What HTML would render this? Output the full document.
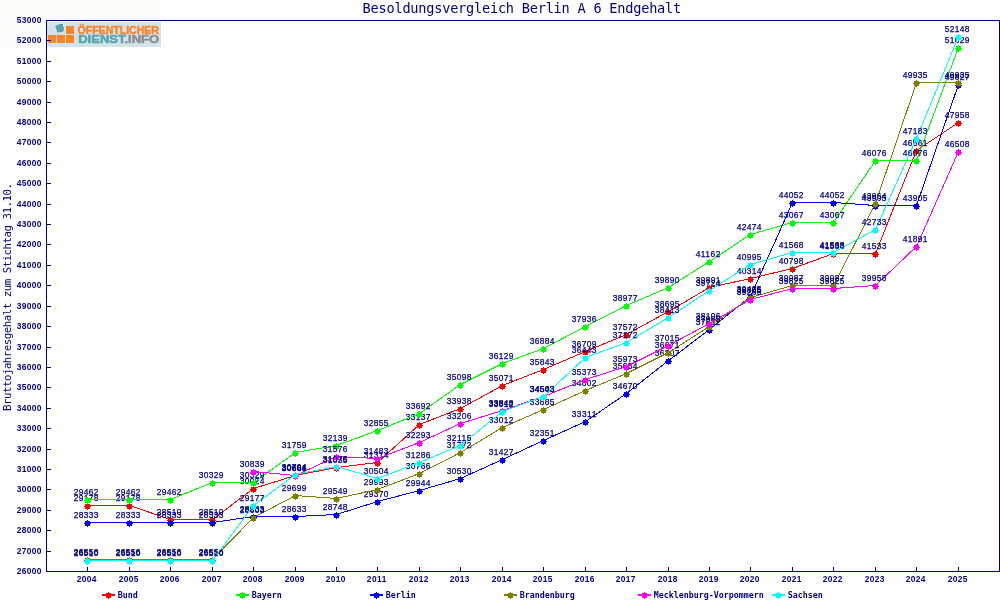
<!DOCTYPE html>
<html lang="de"><head><meta charset="utf-8"><title>Besoldungsvergleich Berlin A 6 Endgehalt</title>
<style>
html,body{margin:0;padding:0;background:#fff;}
body{width:1000px;height:600px;overflow:hidden;}
svg{display:block;}
.t{font-family:"DejaVu Sans Mono","Liberation Mono",monospace;font-size:13.6px;fill:#000080;}
.yt{font-family:"DejaVu Sans Mono","Liberation Mono",monospace;font-size:10.8px;fill:#000080;}
.ax{font-family:"Liberation Sans",sans-serif;font-size:8.4px;font-weight:bold;fill:#000080;}
.v{font-family:"Liberation Sans",sans-serif;font-size:8.4px;fill:#000080;stroke:#000080;stroke-width:0.25px;}
.lg{font-family:"DejaVu Sans Mono","Liberation Mono",monospace;font-size:8.3px;font-weight:bold;fill:#000080;}
.l1{font-family:"Liberation Sans",sans-serif;font-weight:bold;font-size:11.2px;}
</style></head><body>
<svg width="1000" height="600" viewBox="0 0 1000 600">
<rect x="0" y="0" width="1000" height="600" fill="#ffffff"/>
<g id="logo">
<rect x="0" y="0" width="161" height="47" fill="#fcfdfa"/>
<rect x="47" y="22" width="114" height="25" fill="#d4e3ea"/>
<rect x="66" y="26" width="8" height="8" fill="#fb8427"/>
<rect x="48" y="35" width="8" height="8" fill="#fb8427"/>
<rect x="57" y="35" width="8" height="8" fill="#fb8427"/>
<rect x="66" y="35" width="8" height="8" fill="#fb8427"/>
<path d="M55.1,24.9 L57.5,24.6 L60.2,23.4 L63.2,23.4 L63.8,27 L64.4,27.6 L64.4,30.9 L62,32.7 L57.5,33 L56.3,31.5 L56,29.1 L55.1,28.5 Z" fill="#5aa3ae" stroke="#eef5f7" stroke-width="0.8" stroke-linejoin="round"/>
<text class="l1" x="77.5" y="33.8" fill="#fb8427" stroke="#fb8427" stroke-width="0.5" textLength="81.5" lengthAdjust="spacingAndGlyphs">ÖFFENTLICHER</text>
<text class="l1" x="78.2" y="42.7" textLength="81" lengthAdjust="spacingAndGlyphs" style="font-size:10.1px"><tspan fill="#5aa3ae" stroke="#5aa3ae" stroke-width="0.5">DIENST</tspan><tspan fill="#8e9093" stroke="#8e9093" stroke-width="0.5">.INFO</tspan></text>
</g>
<text class="t" x="362.6" y="13" textLength="318.6" lengthAdjust="spacing">Besoldungsvergleich Berlin A 6 Endgehalt</text>
<text class="yt" transform="translate(11,411) rotate(-90)" textLength="228" lengthAdjust="spacing">Bruttojahresgehalt zum Stichtag 31.10.</text>
<g shape-rendering="crispEdges" fill="#000080">
<rect x="46" y="20" width="954" height="1"/>
<rect x="46" y="20" width="1" height="552"/>
<rect x="46" y="571" width="954" height="1"/>
<rect x="999" y="20" width="1" height="552"/>
<rect x="47" y="571" width="4" height="1"/>
<rect x="47" y="551" width="4" height="1"/>
<rect x="47" y="530" width="4" height="1"/>
<rect x="47" y="510" width="4" height="1"/>
<rect x="47" y="489" width="4" height="1"/>
<rect x="47" y="469" width="4" height="1"/>
<rect x="47" y="449" width="4" height="1"/>
<rect x="47" y="428" width="4" height="1"/>
<rect x="47" y="408" width="4" height="1"/>
<rect x="47" y="387" width="4" height="1"/>
<rect x="47" y="367" width="4" height="1"/>
<rect x="47" y="347" width="4" height="1"/>
<rect x="47" y="326" width="4" height="1"/>
<rect x="47" y="306" width="4" height="1"/>
<rect x="47" y="285" width="4" height="1"/>
<rect x="47" y="265" width="4" height="1"/>
<rect x="47" y="244" width="4" height="1"/>
<rect x="47" y="224" width="4" height="1"/>
<rect x="47" y="204" width="4" height="1"/>
<rect x="47" y="183" width="4" height="1"/>
<rect x="47" y="163" width="4" height="1"/>
<rect x="47" y="142" width="4" height="1"/>
<rect x="47" y="122" width="4" height="1"/>
<rect x="47" y="102" width="4" height="1"/>
<rect x="47" y="81" width="4" height="1"/>
<rect x="47" y="61" width="4" height="1"/>
<rect x="47" y="40" width="4" height="1"/>
<rect x="47" y="20" width="4" height="1"/>
<rect x="87" y="567" width="1" height="4"/>
<rect x="129" y="567" width="1" height="4"/>
<rect x="170" y="567" width="1" height="4"/>
<rect x="212" y="567" width="1" height="4"/>
<rect x="253" y="567" width="1" height="4"/>
<rect x="295" y="567" width="1" height="4"/>
<rect x="336" y="567" width="1" height="4"/>
<rect x="377" y="567" width="1" height="4"/>
<rect x="419" y="567" width="1" height="4"/>
<rect x="460" y="567" width="1" height="4"/>
<rect x="502" y="567" width="1" height="4"/>
<rect x="543" y="567" width="1" height="4"/>
<rect x="585" y="567" width="1" height="4"/>
<rect x="626" y="567" width="1" height="4"/>
<rect x="668" y="567" width="1" height="4"/>
<rect x="709" y="567" width="1" height="4"/>
<rect x="750" y="567" width="1" height="4"/>
<rect x="792" y="567" width="1" height="4"/>
<rect x="833" y="567" width="1" height="4"/>
<rect x="875" y="567" width="1" height="4"/>
<rect x="916" y="567" width="1" height="4"/>
<rect x="958" y="567" width="1" height="4"/>
</g>
<g class="ax">
<text x="16.7" y="574.1" textLength="24.6" lengthAdjust="spacing">26000</text>
<text x="16.7" y="554.1" textLength="24.6" lengthAdjust="spacing">27000</text>
<text x="16.7" y="533.1" textLength="24.6" lengthAdjust="spacing">28000</text>
<text x="16.7" y="513.1" textLength="24.6" lengthAdjust="spacing">29000</text>
<text x="16.7" y="492.1" textLength="24.6" lengthAdjust="spacing">30000</text>
<text x="16.7" y="472.1" textLength="24.6" lengthAdjust="spacing">31000</text>
<text x="16.7" y="452.1" textLength="24.6" lengthAdjust="spacing">32000</text>
<text x="16.7" y="431.1" textLength="24.6" lengthAdjust="spacing">33000</text>
<text x="16.7" y="411.1" textLength="24.6" lengthAdjust="spacing">34000</text>
<text x="16.7" y="390.1" textLength="24.6" lengthAdjust="spacing">35000</text>
<text x="16.7" y="370.1" textLength="24.6" lengthAdjust="spacing">36000</text>
<text x="16.7" y="350.1" textLength="24.6" lengthAdjust="spacing">37000</text>
<text x="16.7" y="329.1" textLength="24.6" lengthAdjust="spacing">38000</text>
<text x="16.7" y="309.1" textLength="24.6" lengthAdjust="spacing">39000</text>
<text x="16.7" y="288.1" textLength="24.6" lengthAdjust="spacing">40000</text>
<text x="16.7" y="268.1" textLength="24.6" lengthAdjust="spacing">41000</text>
<text x="16.7" y="247.1" textLength="24.6" lengthAdjust="spacing">42000</text>
<text x="16.7" y="227.1" textLength="24.6" lengthAdjust="spacing">43000</text>
<text x="16.7" y="207.1" textLength="24.6" lengthAdjust="spacing">44000</text>
<text x="16.7" y="186.1" textLength="24.6" lengthAdjust="spacing">45000</text>
<text x="16.7" y="166.1" textLength="24.6" lengthAdjust="spacing">46000</text>
<text x="16.7" y="145.1" textLength="24.6" lengthAdjust="spacing">47000</text>
<text x="16.7" y="125.1" textLength="24.6" lengthAdjust="spacing">48000</text>
<text x="16.7" y="105.1" textLength="24.6" lengthAdjust="spacing">49000</text>
<text x="16.7" y="84.1" textLength="24.6" lengthAdjust="spacing">50000</text>
<text x="16.7" y="64.1" textLength="24.6" lengthAdjust="spacing">51000</text>
<text x="16.7" y="43.1" textLength="24.6" lengthAdjust="spacing">52000</text>
<text x="16.7" y="23.1" textLength="24.6" lengthAdjust="spacing">53000</text>
<text x="76.8" y="581.8" textLength="19.6" lengthAdjust="spacing">2004</text>
<text x="118.8" y="581.8" textLength="19.6" lengthAdjust="spacing">2005</text>
<text x="159.8" y="581.8" textLength="19.6" lengthAdjust="spacing">2006</text>
<text x="201.8" y="581.8" textLength="19.6" lengthAdjust="spacing">2007</text>
<text x="242.8" y="581.8" textLength="19.6" lengthAdjust="spacing">2008</text>
<text x="284.8" y="581.8" textLength="19.6" lengthAdjust="spacing">2009</text>
<text x="325.8" y="581.8" textLength="19.6" lengthAdjust="spacing">2010</text>
<text x="366.8" y="581.8" textLength="19.6" lengthAdjust="spacing">2011</text>
<text x="408.8" y="581.8" textLength="19.6" lengthAdjust="spacing">2012</text>
<text x="449.8" y="581.8" textLength="19.6" lengthAdjust="spacing">2013</text>
<text x="491.8" y="581.8" textLength="19.6" lengthAdjust="spacing">2014</text>
<text x="532.8" y="581.8" textLength="19.6" lengthAdjust="spacing">2015</text>
<text x="574.8" y="581.8" textLength="19.6" lengthAdjust="spacing">2016</text>
<text x="615.8" y="581.8" textLength="19.6" lengthAdjust="spacing">2017</text>
<text x="657.8" y="581.8" textLength="19.6" lengthAdjust="spacing">2018</text>
<text x="698.8" y="581.8" textLength="19.6" lengthAdjust="spacing">2019</text>
<text x="739.8" y="581.8" textLength="19.6" lengthAdjust="spacing">2020</text>
<text x="781.8" y="581.8" textLength="19.6" lengthAdjust="spacing">2021</text>
<text x="822.8" y="581.8" textLength="19.6" lengthAdjust="spacing">2022</text>
<text x="864.8" y="581.8" textLength="19.6" lengthAdjust="spacing">2023</text>
<text x="905.8" y="581.8" textLength="19.6" lengthAdjust="spacing">2024</text>
<text x="947.8" y="581.8" textLength="19.6" lengthAdjust="spacing">2025</text>
</g>
<g>
<polyline points="87.5,505.5 129.5,505.5 170.5,519.5 212.5,519.5 253.5,488.5 295.5,475.5 336.5,467.5 377.5,462.5 419.5,424.5 460.5,408.5 502.5,385.5 543.5,369.5 585.5,351.5 626.5,334.5 668.5,311.5 709.5,287.5 750.5,278.5 792.5,268.5 833.5,253.5 875.5,253.5 916.5,150.5 958.5,122.5" fill="none" stroke="#ff0000" stroke-width="1" shape-rendering="crispEdges"/>
<g fill="#ff0000" shape-rendering="crispEdges">
<path transform="translate(87.5,506.5)" d="M-2.5,-2.5h2v-1h1v1h2v2h1v1h-1v2h-2v1h-1v-1h-2v-2h-1v-1h1z"/>
<path transform="translate(129.5,506.5)" d="M-2.5,-2.5h2v-1h1v1h2v2h1v1h-1v2h-2v1h-1v-1h-2v-2h-1v-1h1z"/>
<path transform="translate(170.5,520.5)" d="M-2.5,-2.5h2v-1h1v1h2v2h1v1h-1v2h-2v1h-1v-1h-2v-2h-1v-1h1z"/>
<path transform="translate(212.5,520.5)" d="M-2.5,-2.5h2v-1h1v1h2v2h1v1h-1v2h-2v1h-1v-1h-2v-2h-1v-1h1z"/>
<path transform="translate(253.5,489.5)" d="M-2.5,-2.5h2v-1h1v1h2v2h1v1h-1v2h-2v1h-1v-1h-2v-2h-1v-1h1z"/>
<path transform="translate(295.5,476.5)" d="M-2.5,-2.5h2v-1h1v1h2v2h1v1h-1v2h-2v1h-1v-1h-2v-2h-1v-1h1z"/>
<path transform="translate(336.5,468.5)" d="M-2.5,-2.5h2v-1h1v1h2v2h1v1h-1v2h-2v1h-1v-1h-2v-2h-1v-1h1z"/>
<path transform="translate(377.5,463.5)" d="M-2.5,-2.5h2v-1h1v1h2v2h1v1h-1v2h-2v1h-1v-1h-2v-2h-1v-1h1z"/>
<path transform="translate(419.5,425.5)" d="M-2.5,-2.5h2v-1h1v1h2v2h1v1h-1v2h-2v1h-1v-1h-2v-2h-1v-1h1z"/>
<path transform="translate(460.5,409.5)" d="M-2.5,-2.5h2v-1h1v1h2v2h1v1h-1v2h-2v1h-1v-1h-2v-2h-1v-1h1z"/>
<path transform="translate(502.5,386.5)" d="M-2.5,-2.5h2v-1h1v1h2v2h1v1h-1v2h-2v1h-1v-1h-2v-2h-1v-1h1z"/>
<path transform="translate(543.5,370.5)" d="M-2.5,-2.5h2v-1h1v1h2v2h1v1h-1v2h-2v1h-1v-1h-2v-2h-1v-1h1z"/>
<path transform="translate(585.5,352.5)" d="M-2.5,-2.5h2v-1h1v1h2v2h1v1h-1v2h-2v1h-1v-1h-2v-2h-1v-1h1z"/>
<path transform="translate(626.5,335.5)" d="M-2.5,-2.5h2v-1h1v1h2v2h1v1h-1v2h-2v1h-1v-1h-2v-2h-1v-1h1z"/>
<path transform="translate(668.5,312.5)" d="M-2.5,-2.5h2v-1h1v1h2v2h1v1h-1v2h-2v1h-1v-1h-2v-2h-1v-1h1z"/>
<path transform="translate(709.5,288.5)" d="M-2.5,-2.5h2v-1h1v1h2v2h1v1h-1v2h-2v1h-1v-1h-2v-2h-1v-1h1z"/>
<path transform="translate(750.5,279.5)" d="M-2.5,-2.5h2v-1h1v1h2v2h1v1h-1v2h-2v1h-1v-1h-2v-2h-1v-1h1z"/>
<path transform="translate(792.5,269.5)" d="M-2.5,-2.5h2v-1h1v1h2v2h1v1h-1v2h-2v1h-1v-1h-2v-2h-1v-1h1z"/>
<path transform="translate(833.5,254.5)" d="M-2.5,-2.5h2v-1h1v1h2v2h1v1h-1v2h-2v1h-1v-1h-2v-2h-1v-1h1z"/>
<path transform="translate(875.5,254.5)" d="M-2.5,-2.5h2v-1h1v1h2v2h1v1h-1v2h-2v1h-1v-1h-2v-2h-1v-1h1z"/>
<path transform="translate(916.5,151.5)" d="M-2.5,-2.5h2v-1h1v1h2v2h1v1h-1v2h-2v1h-1v-1h-2v-2h-1v-1h1z"/>
<path transform="translate(958.5,123.5)" d="M-2.5,-2.5h2v-1h1v1h2v2h1v1h-1v2h-2v1h-1v-1h-2v-2h-1v-1h1z"/>
</g>
<g class="v">
<text x="73.7" y="501.2" textLength="24.6" lengthAdjust="spacing">29178</text>
<text x="115.7" y="501.2" textLength="24.6" lengthAdjust="spacing">29178</text>
<text x="156.7" y="515.2" textLength="24.6" lengthAdjust="spacing">28510</text>
<text x="198.7" y="515.2" textLength="24.6" lengthAdjust="spacing">28510</text>
<text x="239.7" y="484.2" textLength="24.6" lengthAdjust="spacing">30024</text>
<text x="281.7" y="471.2" textLength="24.6" lengthAdjust="spacing">30661</text>
<text x="322.7" y="463.2" textLength="24.6" lengthAdjust="spacing">31035</text>
<text x="363.7" y="458.2" textLength="24.6" lengthAdjust="spacing">31314</text>
<text x="405.7" y="420.2" textLength="24.6" lengthAdjust="spacing">33137</text>
<text x="446.7" y="404.2" textLength="24.6" lengthAdjust="spacing">33938</text>
<text x="488.7" y="381.2" textLength="24.6" lengthAdjust="spacing">35071</text>
<text x="529.7" y="365.2" textLength="24.6" lengthAdjust="spacing">35843</text>
<text x="571.7" y="347.2" textLength="24.6" lengthAdjust="spacing">36709</text>
<text x="612.7" y="330.2" textLength="24.6" lengthAdjust="spacing">37572</text>
<text x="654.7" y="307.2" textLength="24.6" lengthAdjust="spacing">38695</text>
<text x="695.7" y="283.2" textLength="24.6" lengthAdjust="spacing">39891</text>
<text x="736.7" y="274.2" textLength="24.6" lengthAdjust="spacing">40314</text>
<text x="778.7" y="264.2" textLength="24.6" lengthAdjust="spacing">40798</text>
<text x="819.7" y="249.2" textLength="24.6" lengthAdjust="spacing">41533</text>
<text x="861.7" y="249.2" textLength="24.6" lengthAdjust="spacing">41533</text>
<text x="902.7" y="146.2" textLength="24.6" lengthAdjust="spacing">46561</text>
<text x="944.7" y="118.2" textLength="24.6" lengthAdjust="spacing">47958</text>
</g>
</g>
<g>
<polyline points="87.5,499.5 129.5,499.5 170.5,499.5 212.5,482.5 253.5,482.5 295.5,452.5 336.5,445.5 377.5,430.5 419.5,413.5 460.5,384.5 502.5,363.5 543.5,348.5 585.5,326.5 626.5,305.5 668.5,287.5 709.5,261.5 750.5,234.5 792.5,222.5 833.5,222.5 875.5,160.5 916.5,160.5 958.5,47.5" fill="none" stroke="#00ff00" stroke-width="1" shape-rendering="crispEdges"/>
<g fill="#00ff00" shape-rendering="crispEdges">
<path transform="translate(87.5,500.5)" d="M-2.5,-2.5h2v-1h1v1h2v2h1v1h-1v2h-2v1h-1v-1h-2v-2h-1v-1h1z"/>
<path transform="translate(129.5,500.5)" d="M-2.5,-2.5h2v-1h1v1h2v2h1v1h-1v2h-2v1h-1v-1h-2v-2h-1v-1h1z"/>
<path transform="translate(170.5,500.5)" d="M-2.5,-2.5h2v-1h1v1h2v2h1v1h-1v2h-2v1h-1v-1h-2v-2h-1v-1h1z"/>
<path transform="translate(212.5,483.5)" d="M-2.5,-2.5h2v-1h1v1h2v2h1v1h-1v2h-2v1h-1v-1h-2v-2h-1v-1h1z"/>
<path transform="translate(253.5,483.5)" d="M-2.5,-2.5h2v-1h1v1h2v2h1v1h-1v2h-2v1h-1v-1h-2v-2h-1v-1h1z"/>
<path transform="translate(295.5,453.5)" d="M-2.5,-2.5h2v-1h1v1h2v2h1v1h-1v2h-2v1h-1v-1h-2v-2h-1v-1h1z"/>
<path transform="translate(336.5,446.5)" d="M-2.5,-2.5h2v-1h1v1h2v2h1v1h-1v2h-2v1h-1v-1h-2v-2h-1v-1h1z"/>
<path transform="translate(377.5,431.5)" d="M-2.5,-2.5h2v-1h1v1h2v2h1v1h-1v2h-2v1h-1v-1h-2v-2h-1v-1h1z"/>
<path transform="translate(419.5,414.5)" d="M-2.5,-2.5h2v-1h1v1h2v2h1v1h-1v2h-2v1h-1v-1h-2v-2h-1v-1h1z"/>
<path transform="translate(460.5,385.5)" d="M-2.5,-2.5h2v-1h1v1h2v2h1v1h-1v2h-2v1h-1v-1h-2v-2h-1v-1h1z"/>
<path transform="translate(502.5,364.5)" d="M-2.5,-2.5h2v-1h1v1h2v2h1v1h-1v2h-2v1h-1v-1h-2v-2h-1v-1h1z"/>
<path transform="translate(543.5,349.5)" d="M-2.5,-2.5h2v-1h1v1h2v2h1v1h-1v2h-2v1h-1v-1h-2v-2h-1v-1h1z"/>
<path transform="translate(585.5,327.5)" d="M-2.5,-2.5h2v-1h1v1h2v2h1v1h-1v2h-2v1h-1v-1h-2v-2h-1v-1h1z"/>
<path transform="translate(626.5,306.5)" d="M-2.5,-2.5h2v-1h1v1h2v2h1v1h-1v2h-2v1h-1v-1h-2v-2h-1v-1h1z"/>
<path transform="translate(668.5,288.5)" d="M-2.5,-2.5h2v-1h1v1h2v2h1v1h-1v2h-2v1h-1v-1h-2v-2h-1v-1h1z"/>
<path transform="translate(709.5,262.5)" d="M-2.5,-2.5h2v-1h1v1h2v2h1v1h-1v2h-2v1h-1v-1h-2v-2h-1v-1h1z"/>
<path transform="translate(750.5,235.5)" d="M-2.5,-2.5h2v-1h1v1h2v2h1v1h-1v2h-2v1h-1v-1h-2v-2h-1v-1h1z"/>
<path transform="translate(792.5,223.5)" d="M-2.5,-2.5h2v-1h1v1h2v2h1v1h-1v2h-2v1h-1v-1h-2v-2h-1v-1h1z"/>
<path transform="translate(833.5,223.5)" d="M-2.5,-2.5h2v-1h1v1h2v2h1v1h-1v2h-2v1h-1v-1h-2v-2h-1v-1h1z"/>
<path transform="translate(875.5,161.5)" d="M-2.5,-2.5h2v-1h1v1h2v2h1v1h-1v2h-2v1h-1v-1h-2v-2h-1v-1h1z"/>
<path transform="translate(916.5,161.5)" d="M-2.5,-2.5h2v-1h1v1h2v2h1v1h-1v2h-2v1h-1v-1h-2v-2h-1v-1h1z"/>
<path transform="translate(958.5,48.5)" d="M-2.5,-2.5h2v-1h1v1h2v2h1v1h-1v2h-2v1h-1v-1h-2v-2h-1v-1h1z"/>
</g>
<g class="v">
<text x="73.7" y="495.2" textLength="24.6" lengthAdjust="spacing">29462</text>
<text x="115.7" y="495.2" textLength="24.6" lengthAdjust="spacing">29462</text>
<text x="156.7" y="495.2" textLength="24.6" lengthAdjust="spacing">29462</text>
<text x="198.7" y="478.2" textLength="24.6" lengthAdjust="spacing">30329</text>
<text x="239.7" y="478.2" textLength="24.6" lengthAdjust="spacing">30329</text>
<text x="281.7" y="448.2" textLength="24.6" lengthAdjust="spacing">31759</text>
<text x="322.7" y="441.2" textLength="24.6" lengthAdjust="spacing">32139</text>
<text x="363.7" y="426.2" textLength="24.6" lengthAdjust="spacing">32855</text>
<text x="405.7" y="409.2" textLength="24.6" lengthAdjust="spacing">33692</text>
<text x="446.7" y="380.2" textLength="24.6" lengthAdjust="spacing">35098</text>
<text x="488.7" y="359.2" textLength="24.6" lengthAdjust="spacing">36129</text>
<text x="529.7" y="344.2" textLength="24.6" lengthAdjust="spacing">36884</text>
<text x="571.7" y="322.2" textLength="24.6" lengthAdjust="spacing">37936</text>
<text x="612.7" y="301.2" textLength="24.6" lengthAdjust="spacing">38977</text>
<text x="654.7" y="283.2" textLength="24.6" lengthAdjust="spacing">39890</text>
<text x="695.7" y="257.2" textLength="24.6" lengthAdjust="spacing">41162</text>
<text x="736.7" y="230.2" textLength="24.6" lengthAdjust="spacing">42474</text>
<text x="778.7" y="218.2" textLength="24.6" lengthAdjust="spacing">43067</text>
<text x="819.7" y="218.2" textLength="24.6" lengthAdjust="spacing">43067</text>
<text x="861.7" y="156.2" textLength="24.6" lengthAdjust="spacing">46076</text>
<text x="902.7" y="156.2" textLength="24.6" lengthAdjust="spacing">46076</text>
<text x="944.7" y="43.2" textLength="24.6" lengthAdjust="spacing">51629</text>
</g>
</g>
<g>
<polyline points="87.5,522.5 129.5,522.5 170.5,522.5 212.5,522.5 253.5,516.5 295.5,516.5 336.5,514.5 377.5,501.5 419.5,490.5 460.5,478.5 502.5,459.5 543.5,440.5 585.5,421.5 626.5,393.5 668.5,360.5 709.5,329.5 750.5,296.5 792.5,202.5 833.5,202.5 875.5,205.5 916.5,205.5 958.5,84.5" fill="none" stroke="#0000ff" stroke-width="1" shape-rendering="crispEdges"/>
<g fill="#0000ff" shape-rendering="crispEdges">
<path transform="translate(87.5,523.5)" d="M-2.5,-2.5h2v-1h1v1h2v2h1v1h-1v2h-2v1h-1v-1h-2v-2h-1v-1h1z"/>
<path transform="translate(129.5,523.5)" d="M-2.5,-2.5h2v-1h1v1h2v2h1v1h-1v2h-2v1h-1v-1h-2v-2h-1v-1h1z"/>
<path transform="translate(170.5,523.5)" d="M-2.5,-2.5h2v-1h1v1h2v2h1v1h-1v2h-2v1h-1v-1h-2v-2h-1v-1h1z"/>
<path transform="translate(212.5,523.5)" d="M-2.5,-2.5h2v-1h1v1h2v2h1v1h-1v2h-2v1h-1v-1h-2v-2h-1v-1h1z"/>
<path transform="translate(253.5,517.5)" d="M-2.5,-2.5h2v-1h1v1h2v2h1v1h-1v2h-2v1h-1v-1h-2v-2h-1v-1h1z"/>
<path transform="translate(295.5,517.5)" d="M-2.5,-2.5h2v-1h1v1h2v2h1v1h-1v2h-2v1h-1v-1h-2v-2h-1v-1h1z"/>
<path transform="translate(336.5,515.5)" d="M-2.5,-2.5h2v-1h1v1h2v2h1v1h-1v2h-2v1h-1v-1h-2v-2h-1v-1h1z"/>
<path transform="translate(377.5,502.5)" d="M-2.5,-2.5h2v-1h1v1h2v2h1v1h-1v2h-2v1h-1v-1h-2v-2h-1v-1h1z"/>
<path transform="translate(419.5,491.5)" d="M-2.5,-2.5h2v-1h1v1h2v2h1v1h-1v2h-2v1h-1v-1h-2v-2h-1v-1h1z"/>
<path transform="translate(460.5,479.5)" d="M-2.5,-2.5h2v-1h1v1h2v2h1v1h-1v2h-2v1h-1v-1h-2v-2h-1v-1h1z"/>
<path transform="translate(502.5,460.5)" d="M-2.5,-2.5h2v-1h1v1h2v2h1v1h-1v2h-2v1h-1v-1h-2v-2h-1v-1h1z"/>
<path transform="translate(543.5,441.5)" d="M-2.5,-2.5h2v-1h1v1h2v2h1v1h-1v2h-2v1h-1v-1h-2v-2h-1v-1h1z"/>
<path transform="translate(585.5,422.5)" d="M-2.5,-2.5h2v-1h1v1h2v2h1v1h-1v2h-2v1h-1v-1h-2v-2h-1v-1h1z"/>
<path transform="translate(626.5,394.5)" d="M-2.5,-2.5h2v-1h1v1h2v2h1v1h-1v2h-2v1h-1v-1h-2v-2h-1v-1h1z"/>
<path transform="translate(668.5,361.5)" d="M-2.5,-2.5h2v-1h1v1h2v2h1v1h-1v2h-2v1h-1v-1h-2v-2h-1v-1h1z"/>
<path transform="translate(709.5,330.5)" d="M-2.5,-2.5h2v-1h1v1h2v2h1v1h-1v2h-2v1h-1v-1h-2v-2h-1v-1h1z"/>
<path transform="translate(750.5,297.5)" d="M-2.5,-2.5h2v-1h1v1h2v2h1v1h-1v2h-2v1h-1v-1h-2v-2h-1v-1h1z"/>
<path transform="translate(792.5,203.5)" d="M-2.5,-2.5h2v-1h1v1h2v2h1v1h-1v2h-2v1h-1v-1h-2v-2h-1v-1h1z"/>
<path transform="translate(833.5,203.5)" d="M-2.5,-2.5h2v-1h1v1h2v2h1v1h-1v2h-2v1h-1v-1h-2v-2h-1v-1h1z"/>
<path transform="translate(875.5,206.5)" d="M-2.5,-2.5h2v-1h1v1h2v2h1v1h-1v2h-2v1h-1v-1h-2v-2h-1v-1h1z"/>
<path transform="translate(916.5,206.5)" d="M-2.5,-2.5h2v-1h1v1h2v2h1v1h-1v2h-2v1h-1v-1h-2v-2h-1v-1h1z"/>
<path transform="translate(958.5,85.5)" d="M-2.5,-2.5h2v-1h1v1h2v2h1v1h-1v2h-2v1h-1v-1h-2v-2h-1v-1h1z"/>
</g>
<g class="v">
<text x="73.7" y="518.2" textLength="24.6" lengthAdjust="spacing">28333</text>
<text x="115.7" y="518.2" textLength="24.6" lengthAdjust="spacing">28333</text>
<text x="156.7" y="518.2" textLength="24.6" lengthAdjust="spacing">28333</text>
<text x="198.7" y="518.2" textLength="24.6" lengthAdjust="spacing">28333</text>
<text x="239.7" y="512.2" textLength="24.6" lengthAdjust="spacing">28633</text>
<text x="281.7" y="512.2" textLength="24.6" lengthAdjust="spacing">28633</text>
<text x="322.7" y="510.2" textLength="24.6" lengthAdjust="spacing">28748</text>
<text x="363.7" y="497.2" textLength="24.6" lengthAdjust="spacing">29370</text>
<text x="405.7" y="486.2" textLength="24.6" lengthAdjust="spacing">29944</text>
<text x="446.7" y="474.2" textLength="24.6" lengthAdjust="spacing">30530</text>
<text x="488.7" y="455.2" textLength="24.6" lengthAdjust="spacing">31427</text>
<text x="529.7" y="436.2" textLength="24.6" lengthAdjust="spacing">32351</text>
<text x="571.7" y="417.2" textLength="24.6" lengthAdjust="spacing">33311</text>
<text x="612.7" y="389.2" textLength="24.6" lengthAdjust="spacing">34670</text>
<text x="654.7" y="356.2" textLength="24.6" lengthAdjust="spacing">36307</text>
<text x="695.7" y="325.2" textLength="24.6" lengthAdjust="spacing">37812</text>
<text x="736.7" y="292.2" textLength="24.6" lengthAdjust="spacing">39405</text>
<text x="778.7" y="198.2" textLength="24.6" lengthAdjust="spacing">44052</text>
<text x="819.7" y="198.2" textLength="24.6" lengthAdjust="spacing">44052</text>
<text x="861.7" y="201.2" textLength="24.6" lengthAdjust="spacing">43905</text>
<text x="902.7" y="201.2" textLength="24.6" lengthAdjust="spacing">43905</text>
<text x="944.7" y="80.2" textLength="24.6" lengthAdjust="spacing">49827</text>
</g>
</g>
<g>
<polyline points="87.5,559.5 129.5,559.5 170.5,559.5 212.5,559.5 253.5,517.5 295.5,495.5 336.5,498.5 377.5,489.5 419.5,473.5 460.5,452.5 502.5,427.5 543.5,409.5 585.5,390.5 626.5,373.5 668.5,352.5 709.5,326.5 750.5,297.5 792.5,285.5 833.5,285.5 875.5,203.5 916.5,82.5 958.5,82.5" fill="none" stroke="#808000" stroke-width="1" shape-rendering="crispEdges"/>
<g fill="#808000" shape-rendering="crispEdges">
<path transform="translate(87.5,560.5)" d="M-2.5,-2.5h2v-1h1v1h2v2h1v1h-1v2h-2v1h-1v-1h-2v-2h-1v-1h1z"/>
<path transform="translate(129.5,560.5)" d="M-2.5,-2.5h2v-1h1v1h2v2h1v1h-1v2h-2v1h-1v-1h-2v-2h-1v-1h1z"/>
<path transform="translate(170.5,560.5)" d="M-2.5,-2.5h2v-1h1v1h2v2h1v1h-1v2h-2v1h-1v-1h-2v-2h-1v-1h1z"/>
<path transform="translate(212.5,560.5)" d="M-2.5,-2.5h2v-1h1v1h2v2h1v1h-1v2h-2v1h-1v-1h-2v-2h-1v-1h1z"/>
<path transform="translate(253.5,518.5)" d="M-2.5,-2.5h2v-1h1v1h2v2h1v1h-1v2h-2v1h-1v-1h-2v-2h-1v-1h1z"/>
<path transform="translate(295.5,496.5)" d="M-2.5,-2.5h2v-1h1v1h2v2h1v1h-1v2h-2v1h-1v-1h-2v-2h-1v-1h1z"/>
<path transform="translate(336.5,499.5)" d="M-2.5,-2.5h2v-1h1v1h2v2h1v1h-1v2h-2v1h-1v-1h-2v-2h-1v-1h1z"/>
<path transform="translate(377.5,490.5)" d="M-2.5,-2.5h2v-1h1v1h2v2h1v1h-1v2h-2v1h-1v-1h-2v-2h-1v-1h1z"/>
<path transform="translate(419.5,474.5)" d="M-2.5,-2.5h2v-1h1v1h2v2h1v1h-1v2h-2v1h-1v-1h-2v-2h-1v-1h1z"/>
<path transform="translate(460.5,453.5)" d="M-2.5,-2.5h2v-1h1v1h2v2h1v1h-1v2h-2v1h-1v-1h-2v-2h-1v-1h1z"/>
<path transform="translate(502.5,428.5)" d="M-2.5,-2.5h2v-1h1v1h2v2h1v1h-1v2h-2v1h-1v-1h-2v-2h-1v-1h1z"/>
<path transform="translate(543.5,410.5)" d="M-2.5,-2.5h2v-1h1v1h2v2h1v1h-1v2h-2v1h-1v-1h-2v-2h-1v-1h1z"/>
<path transform="translate(585.5,391.5)" d="M-2.5,-2.5h2v-1h1v1h2v2h1v1h-1v2h-2v1h-1v-1h-2v-2h-1v-1h1z"/>
<path transform="translate(626.5,374.5)" d="M-2.5,-2.5h2v-1h1v1h2v2h1v1h-1v2h-2v1h-1v-1h-2v-2h-1v-1h1z"/>
<path transform="translate(668.5,353.5)" d="M-2.5,-2.5h2v-1h1v1h2v2h1v1h-1v2h-2v1h-1v-1h-2v-2h-1v-1h1z"/>
<path transform="translate(709.5,327.5)" d="M-2.5,-2.5h2v-1h1v1h2v2h1v1h-1v2h-2v1h-1v-1h-2v-2h-1v-1h1z"/>
<path transform="translate(750.5,298.5)" d="M-2.5,-2.5h2v-1h1v1h2v2h1v1h-1v2h-2v1h-1v-1h-2v-2h-1v-1h1z"/>
<path transform="translate(792.5,286.5)" d="M-2.5,-2.5h2v-1h1v1h2v2h1v1h-1v2h-2v1h-1v-1h-2v-2h-1v-1h1z"/>
<path transform="translate(833.5,286.5)" d="M-2.5,-2.5h2v-1h1v1h2v2h1v1h-1v2h-2v1h-1v-1h-2v-2h-1v-1h1z"/>
<path transform="translate(875.5,204.5)" d="M-2.5,-2.5h2v-1h1v1h2v2h1v1h-1v2h-2v1h-1v-1h-2v-2h-1v-1h1z"/>
<path transform="translate(916.5,83.5)" d="M-2.5,-2.5h2v-1h1v1h2v2h1v1h-1v2h-2v1h-1v-1h-2v-2h-1v-1h1z"/>
<path transform="translate(958.5,83.5)" d="M-2.5,-2.5h2v-1h1v1h2v2h1v1h-1v2h-2v1h-1v-1h-2v-2h-1v-1h1z"/>
</g>
<g class="v">
<text x="73.7" y="555.2" textLength="24.6" lengthAdjust="spacing">26556</text>
<text x="115.7" y="555.2" textLength="24.6" lengthAdjust="spacing">26556</text>
<text x="156.7" y="555.2" textLength="24.6" lengthAdjust="spacing">26556</text>
<text x="198.7" y="555.2" textLength="24.6" lengthAdjust="spacing">26556</text>
<text x="239.7" y="513.2" textLength="24.6" lengthAdjust="spacing">28603</text>
<text x="281.7" y="491.2" textLength="24.6" lengthAdjust="spacing">29699</text>
<text x="322.7" y="494.2" textLength="24.6" lengthAdjust="spacing">29549</text>
<text x="363.7" y="485.2" textLength="24.6" lengthAdjust="spacing">29993</text>
<text x="405.7" y="469.2" textLength="24.6" lengthAdjust="spacing">30766</text>
<text x="446.7" y="448.2" textLength="24.6" lengthAdjust="spacing">31772</text>
<text x="488.7" y="423.2" textLength="24.6" lengthAdjust="spacing">33012</text>
<text x="529.7" y="405.2" textLength="24.6" lengthAdjust="spacing">33885</text>
<text x="571.7" y="386.2" textLength="24.6" lengthAdjust="spacing">34802</text>
<text x="612.7" y="369.2" textLength="24.6" lengthAdjust="spacing">35654</text>
<text x="654.7" y="348.2" textLength="24.6" lengthAdjust="spacing">36671</text>
<text x="695.7" y="322.2" textLength="24.6" lengthAdjust="spacing">37965</text>
<text x="736.7" y="293.2" textLength="24.6" lengthAdjust="spacing">39365</text>
<text x="778.7" y="281.2" textLength="24.6" lengthAdjust="spacing">39987</text>
<text x="819.7" y="281.2" textLength="24.6" lengthAdjust="spacing">39987</text>
<text x="861.7" y="199.2" textLength="24.6" lengthAdjust="spacing">43964</text>
<text x="902.7" y="78.2" textLength="24.6" lengthAdjust="spacing">49935</text>
<text x="944.7" y="78.2" textLength="24.6" lengthAdjust="spacing">49935</text>
</g>
</g>
<g>
<polyline points="253.5,471.5 295.5,475.5 336.5,456.5 377.5,458.5 419.5,442.5 460.5,423.5 502.5,410.5 543.5,396.5 585.5,379.5 626.5,366.5 668.5,345.5 709.5,323.5 750.5,299.5 792.5,288.5 833.5,288.5 875.5,285.5 916.5,246.5 958.5,151.5" fill="none" stroke="#ff00ff" stroke-width="1" shape-rendering="crispEdges"/>
<g fill="#ff00ff" shape-rendering="crispEdges">
<path transform="translate(253.5,472.5)" d="M-2.5,-2.5h2v-1h1v1h2v2h1v1h-1v2h-2v1h-1v-1h-2v-2h-1v-1h1z"/>
<path transform="translate(295.5,476.5)" d="M-2.5,-2.5h2v-1h1v1h2v2h1v1h-1v2h-2v1h-1v-1h-2v-2h-1v-1h1z"/>
<path transform="translate(336.5,457.5)" d="M-2.5,-2.5h2v-1h1v1h2v2h1v1h-1v2h-2v1h-1v-1h-2v-2h-1v-1h1z"/>
<path transform="translate(377.5,459.5)" d="M-2.5,-2.5h2v-1h1v1h2v2h1v1h-1v2h-2v1h-1v-1h-2v-2h-1v-1h1z"/>
<path transform="translate(419.5,443.5)" d="M-2.5,-2.5h2v-1h1v1h2v2h1v1h-1v2h-2v1h-1v-1h-2v-2h-1v-1h1z"/>
<path transform="translate(460.5,424.5)" d="M-2.5,-2.5h2v-1h1v1h2v2h1v1h-1v2h-2v1h-1v-1h-2v-2h-1v-1h1z"/>
<path transform="translate(502.5,411.5)" d="M-2.5,-2.5h2v-1h1v1h2v2h1v1h-1v2h-2v1h-1v-1h-2v-2h-1v-1h1z"/>
<path transform="translate(543.5,397.5)" d="M-2.5,-2.5h2v-1h1v1h2v2h1v1h-1v2h-2v1h-1v-1h-2v-2h-1v-1h1z"/>
<path transform="translate(585.5,380.5)" d="M-2.5,-2.5h2v-1h1v1h2v2h1v1h-1v2h-2v1h-1v-1h-2v-2h-1v-1h1z"/>
<path transform="translate(626.5,367.5)" d="M-2.5,-2.5h2v-1h1v1h2v2h1v1h-1v2h-2v1h-1v-1h-2v-2h-1v-1h1z"/>
<path transform="translate(668.5,346.5)" d="M-2.5,-2.5h2v-1h1v1h2v2h1v1h-1v2h-2v1h-1v-1h-2v-2h-1v-1h1z"/>
<path transform="translate(709.5,324.5)" d="M-2.5,-2.5h2v-1h1v1h2v2h1v1h-1v2h-2v1h-1v-1h-2v-2h-1v-1h1z"/>
<path transform="translate(750.5,300.5)" d="M-2.5,-2.5h2v-1h1v1h2v2h1v1h-1v2h-2v1h-1v-1h-2v-2h-1v-1h1z"/>
<path transform="translate(792.5,289.5)" d="M-2.5,-2.5h2v-1h1v1h2v2h1v1h-1v2h-2v1h-1v-1h-2v-2h-1v-1h1z"/>
<path transform="translate(833.5,289.5)" d="M-2.5,-2.5h2v-1h1v1h2v2h1v1h-1v2h-2v1h-1v-1h-2v-2h-1v-1h1z"/>
<path transform="translate(875.5,286.5)" d="M-2.5,-2.5h2v-1h1v1h2v2h1v1h-1v2h-2v1h-1v-1h-2v-2h-1v-1h1z"/>
<path transform="translate(916.5,247.5)" d="M-2.5,-2.5h2v-1h1v1h2v2h1v1h-1v2h-2v1h-1v-1h-2v-2h-1v-1h1z"/>
<path transform="translate(958.5,152.5)" d="M-2.5,-2.5h2v-1h1v1h2v2h1v1h-1v2h-2v1h-1v-1h-2v-2h-1v-1h1z"/>
</g>
<g class="v">
<text x="239.7" y="467.2" textLength="24.6" lengthAdjust="spacing">30839</text>
<text x="281.7" y="471.2" textLength="24.6" lengthAdjust="spacing">30664</text>
<text x="322.7" y="452.2" textLength="24.6" lengthAdjust="spacing">31576</text>
<text x="363.7" y="454.2" textLength="24.6" lengthAdjust="spacing">31483</text>
<text x="405.7" y="438.2" textLength="24.6" lengthAdjust="spacing">32293</text>
<text x="446.7" y="419.2" textLength="24.6" lengthAdjust="spacing">33206</text>
<text x="488.7" y="406.2" textLength="24.6" lengthAdjust="spacing">33848</text>
<text x="529.7" y="392.2" textLength="24.6" lengthAdjust="spacing">34543</text>
<text x="571.7" y="375.2" textLength="24.6" lengthAdjust="spacing">35373</text>
<text x="612.7" y="362.2" textLength="24.6" lengthAdjust="spacing">35973</text>
<text x="654.7" y="341.2" textLength="24.6" lengthAdjust="spacing">37015</text>
<text x="695.7" y="319.2" textLength="24.6" lengthAdjust="spacing">38106</text>
<text x="736.7" y="295.2" textLength="24.6" lengthAdjust="spacing">39265</text>
<text x="778.7" y="284.2" textLength="24.6" lengthAdjust="spacing">39825</text>
<text x="819.7" y="284.2" textLength="24.6" lengthAdjust="spacing">39825</text>
<text x="861.7" y="281.2" textLength="24.6" lengthAdjust="spacing">39958</text>
<text x="902.7" y="242.2" textLength="24.6" lengthAdjust="spacing">41891</text>
<text x="944.7" y="147.2" textLength="24.6" lengthAdjust="spacing">46508</text>
</g>
</g>
<g>
<polyline points="87.5,560.5 129.5,560.5 170.5,560.5 212.5,560.5 253.5,505.5 295.5,474.5 336.5,466.5 377.5,478.5 419.5,462.5 460.5,445.5 502.5,411.5 543.5,396.5 585.5,357.5 626.5,342.5 668.5,317.5 709.5,290.5 750.5,264.5 792.5,252.5 833.5,252.5 875.5,229.5 916.5,138.5 958.5,36.5" fill="none" stroke="#00ffff" stroke-width="1" shape-rendering="crispEdges"/>
<g fill="#00ffff" shape-rendering="crispEdges">
<path transform="translate(87.5,561.5)" d="M-2.5,-2.5h2v-1h1v1h2v2h1v1h-1v2h-2v1h-1v-1h-2v-2h-1v-1h1z"/>
<path transform="translate(129.5,561.5)" d="M-2.5,-2.5h2v-1h1v1h2v2h1v1h-1v2h-2v1h-1v-1h-2v-2h-1v-1h1z"/>
<path transform="translate(170.5,561.5)" d="M-2.5,-2.5h2v-1h1v1h2v2h1v1h-1v2h-2v1h-1v-1h-2v-2h-1v-1h1z"/>
<path transform="translate(212.5,561.5)" d="M-2.5,-2.5h2v-1h1v1h2v2h1v1h-1v2h-2v1h-1v-1h-2v-2h-1v-1h1z"/>
<path transform="translate(253.5,506.5)" d="M-2.5,-2.5h2v-1h1v1h2v2h1v1h-1v2h-2v1h-1v-1h-2v-2h-1v-1h1z"/>
<path transform="translate(295.5,475.5)" d="M-2.5,-2.5h2v-1h1v1h2v2h1v1h-1v2h-2v1h-1v-1h-2v-2h-1v-1h1z"/>
<path transform="translate(336.5,467.5)" d="M-2.5,-2.5h2v-1h1v1h2v2h1v1h-1v2h-2v1h-1v-1h-2v-2h-1v-1h1z"/>
<path transform="translate(377.5,479.5)" d="M-2.5,-2.5h2v-1h1v1h2v2h1v1h-1v2h-2v1h-1v-1h-2v-2h-1v-1h1z"/>
<path transform="translate(419.5,463.5)" d="M-2.5,-2.5h2v-1h1v1h2v2h1v1h-1v2h-2v1h-1v-1h-2v-2h-1v-1h1z"/>
<path transform="translate(460.5,446.5)" d="M-2.5,-2.5h2v-1h1v1h2v2h1v1h-1v2h-2v1h-1v-1h-2v-2h-1v-1h1z"/>
<path transform="translate(502.5,412.5)" d="M-2.5,-2.5h2v-1h1v1h2v2h1v1h-1v2h-2v1h-1v-1h-2v-2h-1v-1h1z"/>
<path transform="translate(543.5,397.5)" d="M-2.5,-2.5h2v-1h1v1h2v2h1v1h-1v2h-2v1h-1v-1h-2v-2h-1v-1h1z"/>
<path transform="translate(585.5,358.5)" d="M-2.5,-2.5h2v-1h1v1h2v2h1v1h-1v2h-2v1h-1v-1h-2v-2h-1v-1h1z"/>
<path transform="translate(626.5,343.5)" d="M-2.5,-2.5h2v-1h1v1h2v2h1v1h-1v2h-2v1h-1v-1h-2v-2h-1v-1h1z"/>
<path transform="translate(668.5,318.5)" d="M-2.5,-2.5h2v-1h1v1h2v2h1v1h-1v2h-2v1h-1v-1h-2v-2h-1v-1h1z"/>
<path transform="translate(709.5,291.5)" d="M-2.5,-2.5h2v-1h1v1h2v2h1v1h-1v2h-2v1h-1v-1h-2v-2h-1v-1h1z"/>
<path transform="translate(750.5,265.5)" d="M-2.5,-2.5h2v-1h1v1h2v2h1v1h-1v2h-2v1h-1v-1h-2v-2h-1v-1h1z"/>
<path transform="translate(792.5,253.5)" d="M-2.5,-2.5h2v-1h1v1h2v2h1v1h-1v2h-2v1h-1v-1h-2v-2h-1v-1h1z"/>
<path transform="translate(833.5,253.5)" d="M-2.5,-2.5h2v-1h1v1h2v2h1v1h-1v2h-2v1h-1v-1h-2v-2h-1v-1h1z"/>
<path transform="translate(875.5,230.5)" d="M-2.5,-2.5h2v-1h1v1h2v2h1v1h-1v2h-2v1h-1v-1h-2v-2h-1v-1h1z"/>
<path transform="translate(916.5,139.5)" d="M-2.5,-2.5h2v-1h1v1h2v2h1v1h-1v2h-2v1h-1v-1h-2v-2h-1v-1h1z"/>
<path transform="translate(958.5,37.5)" d="M-2.5,-2.5h2v-1h1v1h2v2h1v1h-1v2h-2v1h-1v-1h-2v-2h-1v-1h1z"/>
</g>
<g class="v">
<text x="73.7" y="556.2" textLength="24.6" lengthAdjust="spacing">26510</text>
<text x="115.7" y="556.2" textLength="24.6" lengthAdjust="spacing">26510</text>
<text x="156.7" y="556.2" textLength="24.6" lengthAdjust="spacing">26510</text>
<text x="198.7" y="556.2" textLength="24.6" lengthAdjust="spacing">26510</text>
<text x="239.7" y="501.2" textLength="24.6" lengthAdjust="spacing">29177</text>
<text x="281.7" y="470.2" textLength="24.6" lengthAdjust="spacing">30704</text>
<text x="322.7" y="462.2" textLength="24.6" lengthAdjust="spacing">31076</text>
<text x="363.7" y="474.2" textLength="24.6" lengthAdjust="spacing">30504</text>
<text x="405.7" y="458.2" textLength="24.6" lengthAdjust="spacing">31286</text>
<text x="446.7" y="441.2" textLength="24.6" lengthAdjust="spacing">32115</text>
<text x="488.7" y="407.2" textLength="24.6" lengthAdjust="spacing">33812</text>
<text x="529.7" y="392.2" textLength="24.6" lengthAdjust="spacing">34503</text>
<text x="571.7" y="353.2" textLength="24.6" lengthAdjust="spacing">36443</text>
<text x="612.7" y="338.2" textLength="24.6" lengthAdjust="spacing">37172</text>
<text x="654.7" y="313.2" textLength="24.6" lengthAdjust="spacing">38413</text>
<text x="695.7" y="286.2" textLength="24.6" lengthAdjust="spacing">39724</text>
<text x="736.7" y="260.2" textLength="24.6" lengthAdjust="spacing">40995</text>
<text x="778.7" y="248.2" textLength="24.6" lengthAdjust="spacing">41568</text>
<text x="819.7" y="248.2" textLength="24.6" lengthAdjust="spacing">41568</text>
<text x="861.7" y="225.2" textLength="24.6" lengthAdjust="spacing">42733</text>
<text x="902.7" y="134.2" textLength="24.6" lengthAdjust="spacing">47183</text>
<text x="944.7" y="32.2" textLength="24.6" lengthAdjust="spacing">52148</text>
</g>
</g>
<g id="legend">
<rect x="102" y="594" width="13" height="2" fill="#ff0000" shape-rendering="crispEdges"/>
<path transform="translate(108.5,595.5)" d="M-2.5,-2.5h2v-1h1v1h2v2h1v1h-1v2h-2v1h-1v-1h-2v-2h-1v-1h1z" fill="#ff0000" shape-rendering="crispEdges"/>
<text class="lg" x="117.7" y="598.4" textLength="20" lengthAdjust="spacing">Bund</text>
<rect x="236" y="594" width="13" height="2" fill="#00ff00" shape-rendering="crispEdges"/>
<path transform="translate(242.5,595.5)" d="M-2.5,-2.5h2v-1h1v1h2v2h1v1h-1v2h-2v1h-1v-1h-2v-2h-1v-1h1z" fill="#00ff00" shape-rendering="crispEdges"/>
<text class="lg" x="251.7" y="598.4" textLength="30" lengthAdjust="spacing">Bayern</text>
<rect x="370" y="594" width="13" height="2" fill="#0000ff" shape-rendering="crispEdges"/>
<path transform="translate(376.5,595.5)" d="M-2.5,-2.5h2v-1h1v1h2v2h1v1h-1v2h-2v1h-1v-1h-2v-2h-1v-1h1z" fill="#0000ff" shape-rendering="crispEdges"/>
<text class="lg" x="385.7" y="598.4" textLength="30" lengthAdjust="spacing">Berlin</text>
<rect x="504" y="594" width="13" height="2" fill="#808000" shape-rendering="crispEdges"/>
<path transform="translate(510.5,595.5)" d="M-2.5,-2.5h2v-1h1v1h2v2h1v1h-1v2h-2v1h-1v-1h-2v-2h-1v-1h1z" fill="#808000" shape-rendering="crispEdges"/>
<text class="lg" x="519.7" y="598.4" textLength="55" lengthAdjust="spacing">Brandenburg</text>
<rect x="638" y="594" width="13" height="2" fill="#ff00ff" shape-rendering="crispEdges"/>
<path transform="translate(644.5,595.5)" d="M-2.5,-2.5h2v-1h1v1h2v2h1v1h-1v2h-2v1h-1v-1h-2v-2h-1v-1h1z" fill="#ff00ff" shape-rendering="crispEdges"/>
<text class="lg" x="653.7" y="598.4" textLength="110" lengthAdjust="spacing">Mecklenburg-Vorpommern</text>
<rect x="772" y="594" width="13" height="2" fill="#00ffff" shape-rendering="crispEdges"/>
<path transform="translate(778.5,595.5)" d="M-2.5,-2.5h2v-1h1v1h2v2h1v1h-1v2h-2v1h-1v-1h-2v-2h-1v-1h1z" fill="#00ffff" shape-rendering="crispEdges"/>
<text class="lg" x="787.7" y="598.4" textLength="35" lengthAdjust="spacing">Sachsen</text>
</g>
</svg>
</body></html>
